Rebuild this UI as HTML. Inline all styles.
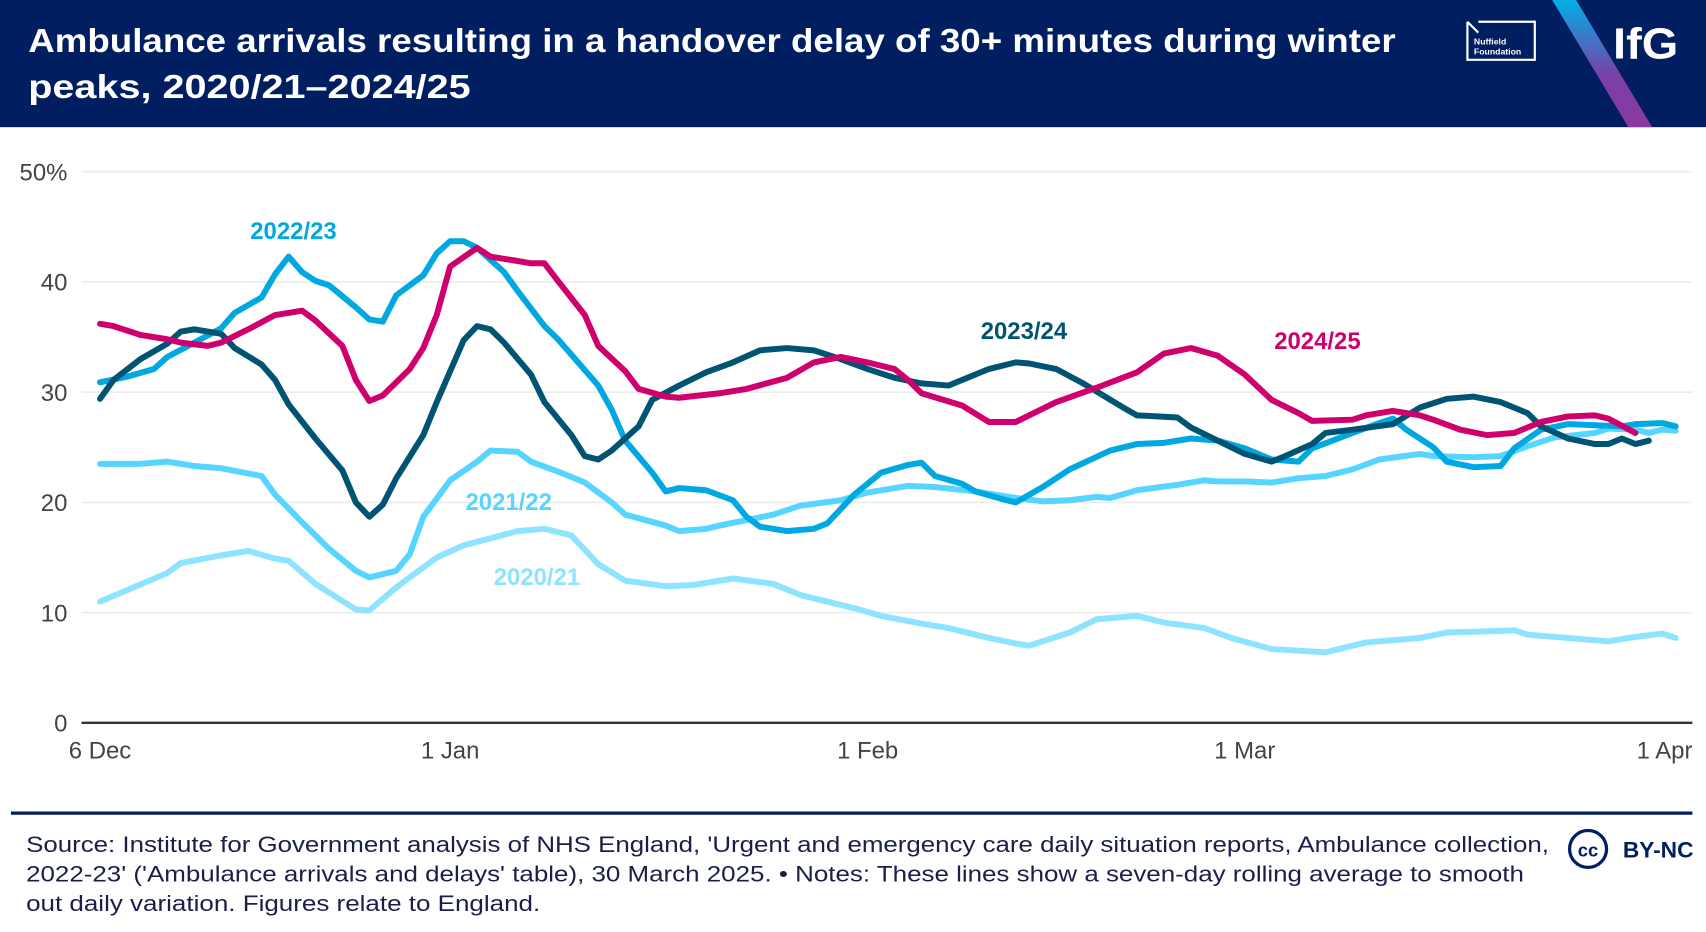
<!DOCTYPE html>
<html><head><meta charset="utf-8"><style>
html,body{margin:0;padding:0;background:#fff;}
svg{display:block;font-family:"Liberation Sans",sans-serif;}
</style></head><body>
<svg id="chart" width="1706" height="932" viewBox="0 0 1569.5 857.4" preserveAspectRatio="none" xmlns="http://www.w3.org/2000/svg">
<defs><linearGradient id="stripe" x1="0" y1="0" x2="0" y2="1"><stop offset="0" stop-color="#00b0e6"/><stop offset="0.6" stop-color="#7b3fa8"/><stop offset="1" stop-color="#8a3a9e"/></linearGradient></defs>
<rect x="0" y="0" width="1570" height="117" fill="#001e60"/>
<g fill="#fff" font-weight="bold" font-size="31">
<text x="26" y="48" textLength="1258" lengthAdjust="spacingAndGlyphs">Ambulance arrivals resulting in a handover delay of 30+ minutes during winter</text>
<text x="26" y="90" textLength="407" lengthAdjust="spacingAndGlyphs">peaks, 2020/21–2024/25</text>
</g>
<g>
<path d="M1350 20 V55 H1412 V20 H1360" fill="none" stroke="#fff" stroke-width="2"/>
<path d="M1350 20 L1360 30" stroke="#fff" stroke-width="2"/>
<text x="1356" y="41" fill="#fff" font-size="8" font-weight="bold">Nuffield</text>
<text x="1356" y="50" fill="#fff" font-size="8" font-weight="bold">Foundation</text>
</g>
<polygon points="1428,0 1450,0 1520,117 1498,117" fill="url(#stripe)"/>
<text x="1484" y="54" fill="#fff" font-size="40" font-weight="bold" textLength="60" lengthAdjust="spacingAndGlyphs">IfG</text>
<g id="grid"></g>
<g id="series"></g>
<g id="labels"></g>
<line x1="10" y1="748" x2="1557" y2="748" stroke="#001e60" stroke-width="3"/>
<g fill="#1a1f4a" font-size="20">
<text x="24" y="784" textLength="1401" lengthAdjust="spacingAndGlyphs">Source: Institute for Government analysis of NHS England, 'Urgent and emergency care daily situation reports, Ambulance collection,</text>
<text x="24" y="811" textLength="1378" lengthAdjust="spacingAndGlyphs">2022-23' ('Ambulance arrivals and delays' table), 30 March 2025. • Notes: These lines show a seven-day rolling average to smooth</text>
<text x="24" y="838" textLength="473" lengthAdjust="spacingAndGlyphs">out daily variation. Figures relate to England.</text>
</g>
<g>
<circle cx="1461" cy="781" r="17" fill="none" stroke="#001e60" stroke-width="3"/>
<text x="1461" y="788" text-anchor="middle" fill="#001e60" font-size="17" font-weight="bold">cc</text>
<text x="1493" y="789" fill="#001e60" font-size="20" font-weight="bold" textLength="65" lengthAdjust="spacingAndGlyphs">BY-NC</text>
</g>
</svg>
<script>
const yTicks=[0,10,20,30,40,50];
const yTickLabels=["0","10","20","30","40","50%"];
const xTickDays=[0,26,57,85,116];
const xTickLabels=["6 Dec","1 Jan","1 Feb","1 Mar","1 Apr"];
const seriesNames=["2020/21","2021/22","2022/23","2023/24","2024/25"];
const days2021=[0,5,6,9,11,13,14,16,19,20,22,25,27,31,33,35,37,39,42,44,47,50,52,56,58,61,63,66,68,69,72,74,77,79,82,84,87,91,94,98,100,103,105,106,110,112,114,116,117];
const vals2021=[11.0,13.6,14.5,15.2,15.6,14.9,14.7,12.6,10.3,10.2,12.3,15.0,16.1,17.4,17.6,17.0,14.4,12.9,12.4,12.5,13.1,12.6,11.6,10.4,9.7,9.0,8.6,7.7,7.2,7.0,8.2,9.4,9.7,9.1,8.6,7.7,6.7,6.4,7.3,7.7,8.2,8.3,8.4,8.0,7.6,7.4,7.8,8.1,7.7];
const days2122=[0,3,5,7,9,12,13,15,17,19,20,22,23,24,26,28,29,31,32,34,36,38,39,42,43,45,46,48,50,52,55,57,60,62,65,68,70,72,74,75,77,80,82,83,85,87,89,91,93,95,98,99,102,104,106,108,111,112,114,115,116,117];
const vals2122=[23.5,23.5,23.7,23.3,23.1,22.4,20.7,18.2,15.8,13.8,13.2,13.8,15.3,18.7,22.0,23.7,24.7,24.6,23.7,22.8,21.8,20.0,18.9,17.9,17.4,17.6,17.9,18.4,18.9,19.7,20.2,20.9,21.5,21.4,21.0,20.4,20.1,20.2,20.5,20.4,21.1,21.6,22.0,21.9,21.9,21.8,22.2,22.4,23.0,23.9,24.4,24.2,24.1,24.2,25.1,25.9,26.3,26.7,26.6,26.3,26.6,26.5];
const days2223=[0,2,4,5,7,9,10,12,13,14,15,16,17,19,20,21,22,24,25,26,27,28,30,31,33,34,35,37,38,39,41,42,43,45,47,48,49,51,53,54,56,58,60,61,62,64,65,67,68,70,72,75,77,79,81,83,85,87,89,90,93,95,96,97,99,100,102,104,105,107,109,111,113,114,116,117];
const vals2223=[30.9,31.4,32.1,33.2,34.5,35.8,37.2,38.6,40.7,42.3,40.9,40.1,39.7,37.7,36.6,36.4,38.8,40.6,42.6,43.7,43.7,43.1,40.9,39.2,36.0,34.8,33.4,30.6,28.4,25.6,22.7,21.0,21.3,21.1,20.2,18.7,17.8,17.4,17.6,18.1,20.7,22.7,23.4,23.6,22.4,21.7,21.0,20.3,20.0,21.4,23.0,24.7,25.3,25.4,25.8,25.6,24.9,23.9,23.7,24.9,26.3,27.2,27.6,26.6,25.0,23.7,23.2,23.3,24.9,26.6,27.1,27.0,26.9,27.1,27.2,26.9];
const days2324=[0,1,3,5,6,7,9,10,12,13,14,16,18,19,20,21,22,24,25,27,28,29,30,32,33,35,36,37,38,40,41,43,45,47,49,51,53,55,57,59,61,63,64,66,68,69,71,73,76,77,80,81,83,85,87,88,90,91,93,96,98,100,102,104,106,107,109,111,112,113,114,115];
const vals2324=[29.4,31.1,33.0,34.4,35.5,35.7,35.3,34.0,32.5,31.1,28.9,25.8,22.9,20.0,18.7,19.8,22.2,26.1,29.1,34.7,36.0,35.7,34.5,31.6,29.1,26.1,24.2,23.9,24.7,26.9,29.3,30.6,31.8,32.7,33.8,34.0,33.8,33.0,32.1,31.3,30.8,30.6,31.1,32.1,32.7,32.6,32.1,30.8,28.6,27.9,27.7,26.8,25.6,24.4,23.7,24.2,25.3,26.3,26.6,27.1,28.6,29.4,29.6,29.1,28.1,26.9,25.8,25.3,25.3,25.8,25.3,25.6];
const days2425=[0,1,3,5,6,8,9,11,13,15,16,18,19,20,21,23,24,25,26,28,29,31,32,33,34,36,37,39,40,42,43,46,48,51,53,55,57,59,60,61,64,66,68,69,71,74,77,79,81,83,85,87,89,90,93,94,96,98,99,101,103,105,107,109,111,112,114];
const vals2425=[36.2,36.0,35.2,34.8,34.5,34.2,34.5,35.7,37.0,37.4,36.5,34.2,31.1,29.2,29.7,32.1,34.0,37.0,41.4,43.1,42.3,41.9,41.7,41.7,40.1,37.0,34.2,31.9,30.3,29.6,29.5,29.9,30.3,31.3,32.7,33.2,32.7,32.1,31.1,29.9,28.8,27.3,27.3,27.9,29.1,30.4,31.8,33.5,34.0,33.3,31.6,29.3,28.1,27.4,27.5,27.9,28.3,27.9,27.5,26.6,26.1,26.3,27.3,27.8,27.9,27.6,26.3];
const seriesDays=[days2021,days2122,days2223,days2324,days2425];
const seriesVals=[vals2021,vals2122,vals2223,vals2324,vals2425];
const colors=["#8ee3ff","#55d5ff","#00a8e1","#005473","#cf006e"];
const labelPos=[[494,530],[468,461],[270,212],[942,304],[1212,313]];

const NS="http://www.w3.org/2000/svg";
function xs(d){return 92+d*12.39;}
function ys(v){return 665-v*10.14;}
function mk(tag,attrs,parent){const e=document.createElementNS(NS,tag);for(const k in attrs)e.setAttribute(k,attrs[k]);parent.appendChild(e);return e;}
const grid=document.getElementById('grid');
yTicks.forEach((t,i)=>{
  if(t>0){const g=mk('line',{x1:75,x2:1557,y1:ys(t),y2:ys(t),stroke:'#ececec','stroke-width':1.5},grid);
  
  }
  const tx=mk('text',{x:62,y:ys(t)+8,'text-anchor':'end','font-size':22,fill:'#444'},grid);
  tx.textContent=yTickLabels[i];
  
  
});
const base=mk('line',{x1:75,x2:1557,y1:ys(0),y2:ys(0),stroke:'#333','stroke-width':2.2},grid);


xTickDays.forEach((d,i)=>{
  const last=i===xTickDays.length-1;
  const tx=mk('text',{x:last?1557:xs(d),y:698,'text-anchor':last?'end':'middle','font-size':22,fill:'#444'},grid);
  tx.textContent=xTickLabels[i];
  
  
});
const sg=document.getElementById('series');
seriesNames.forEach((n,i)=>{
  const pts=seriesDays[i].map((d,j)=>xs(d).toFixed(1)+','+ys(seriesVals[i][j]).toFixed(1)).join(' ');
  const p=mk('polyline',{points:pts,fill:'none',stroke:colors[i],'stroke-width':5.5,'stroke-linejoin':'round','stroke-linecap':'round'},sg);
  
  
  const t=mk('text',{x:labelPos[i][0],y:labelPos[i][1]+8,'text-anchor':'middle','font-size':22,'font-weight':'bold',fill:colors[i]},document.getElementById('labels'));
  t.textContent=n;
  
  
});
</script>
</body></html>
